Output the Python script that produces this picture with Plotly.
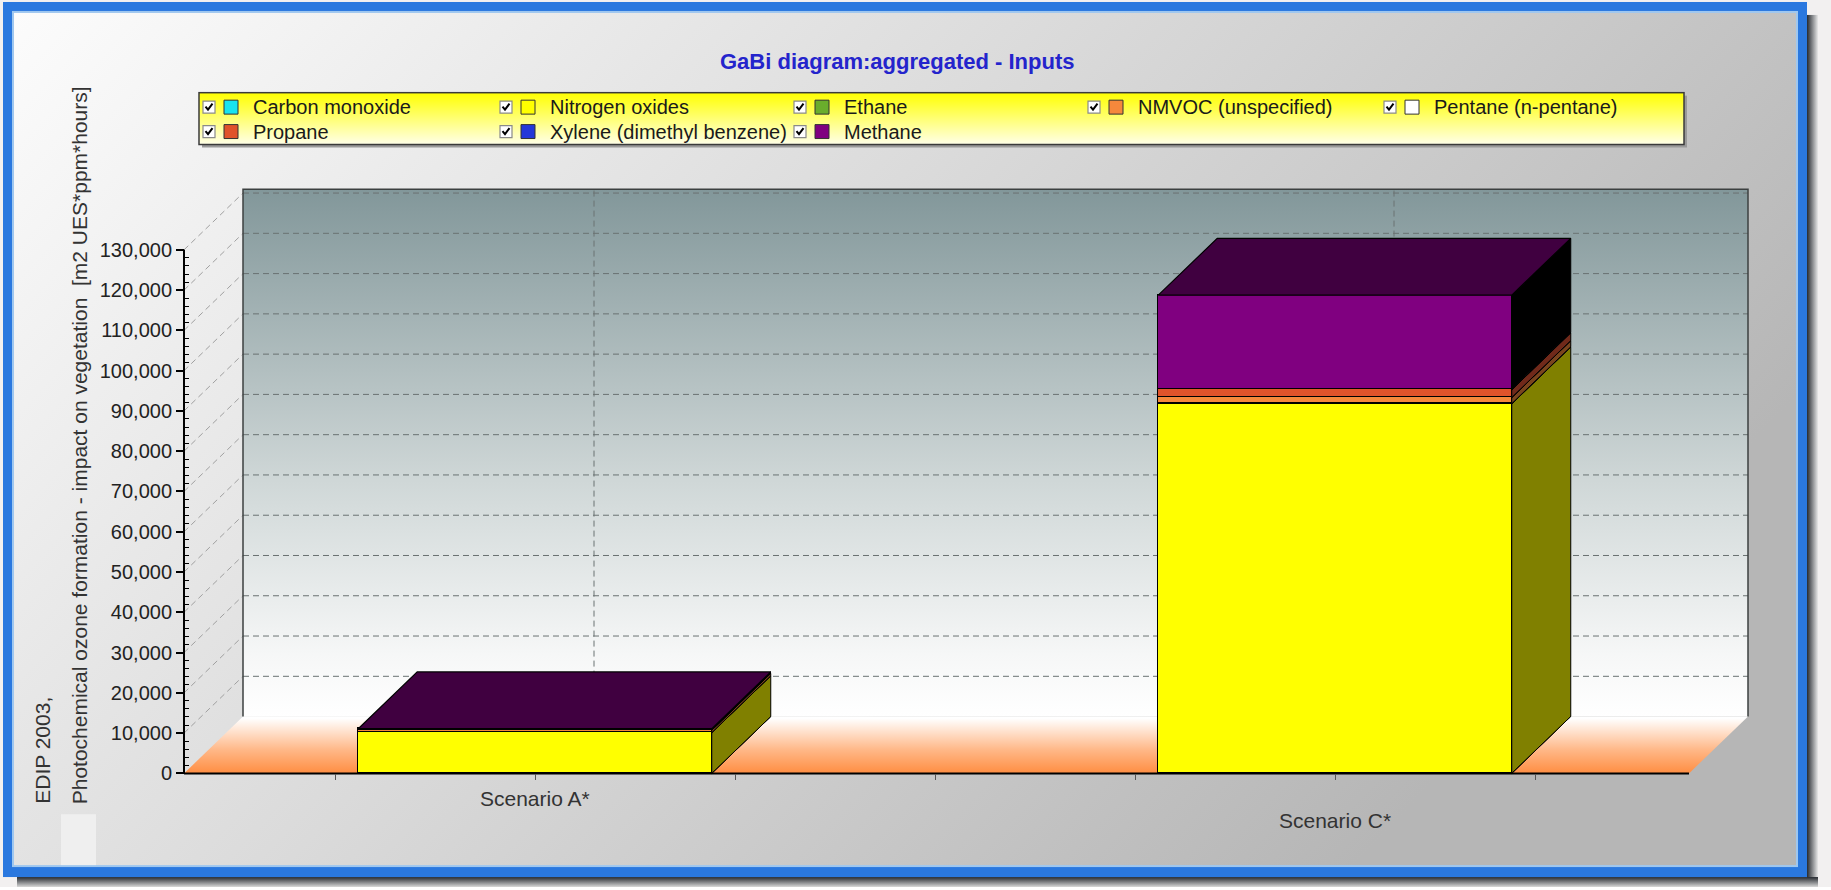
import base64
import plotly.graph_objects as go

# ---------------- data ----------------
scenarios = ["Scenario A*", "Scenario C*"]
flows = ["Carbon monoxide", "Nitrogen oxides", "Ethane", "NMVOC (unspecified)",
         "Pentane (n-pentane)", "Propane", "Xylene (dimethyl benzene)", "Methane"]
carbon_monoxide = [10, 40]
nitrogen_oxides = [10100, 91700]
ethane = [10, 80]
nmvoc = [600, 1500]
pentane = [5, 30]
propane = [150, 1900]
xylene = [20, 100]
methane = [200, 23400]
y_ticks = [0, 10000, 20000, 30000, 40000, 50000, 60000, 70000,
           80000, 90000, 100000, 110000, 120000, 130000]

series = [carbon_monoxide, nitrogen_oxides, ethane, nmvoc,
          pentane, propane, xylene, methane]

# ---------------- styles ----------------
front_col = ["#19e3ef", "#ffff00", "#6aad2c", "#f5883c",
             "#ffffff", "#e0532b", "#2438d8", "#800080"]
side_col = ["#0c7178", "#808000", "#35561a", "#7a441e",
            "#808080", "#70291a", "#121c6c", "#000000"]
top_col = "#400040"
FONT = "Liberation Sans, Arial, sans-serif"

# ---------------- geometry (pixels of the 1831x890 page) ----------------
W, H = 1831, 890
def px(x):
    return x / W
def py(y):
    return 1 - y / H

ZERO_PY = 776.0                       # pixel row of value 0
PPU = (776.0 - 250.7) / 130000.0      # pixels per unit on the value axis
CAT_X0, CAT_STEP = 535.0, 800.0       # pixel column of first category, spacing
def xv(p):
    return (p - CAT_X0) / CAT_STEP
def yv(p):
    return (ZERO_PY - p) / PPU

DX_PX, DY_PX = 59.0, 57.0             # depth offset of the 3-D box
dxu = DX_PX / CAT_STEP
dyu = DY_PX / PPU

x_front_left = xv(184)
wall_left = x_front_left + dxu
wall_right = xv(1748)
floor_front_right = wall_right - dxu
wall_bottom = dyu
wall_top = yv(190)

dom_x = (176, 1756)
dom_y = (184, 784)                    # top, bottom pixel rows
x_range = [xv(dom_x[0]), xv(dom_x[1])]
y_range = [yv(dom_y[1]), yv(dom_y[0])]

bar_w = 353.5 / CAT_STEP
half = bar_w / 2
x_pos = [0, 1]

fig = go.Figure()

# ---------------- back wall and floor (base subplot) ----------------
fig.add_trace(go.Scatter(
    x=[wall_left, wall_right, wall_right, wall_left, wall_left],
    y=[wall_bottom, wall_bottom, wall_top, wall_top, wall_bottom],
    fill="toself", mode="lines", line=dict(width=0),
    fillgradient=dict(type="vertical", start=wall_bottom, stop=wall_top,
                      colorscale=[[0, "#ffffff"], [0.12, "#f6f7f7"],
                                  [0.45, "#cfd7d7"], [1, "#82979a"]]),
    hoverinfo="skip", showlegend=False))
fig.add_trace(go.Scatter(
    x=[x_front_left, floor_front_right, wall_right, wall_left, x_front_left],
    y=[0, 0, wall_bottom, wall_bottom, 0],
    fill="toself", mode="lines", line=dict(width=0),
    fillgradient=dict(type="vertical", start=0, stop=wall_bottom,
                      colorscale=[[0, "#ff8a3c"], [0.45, "#ffb888"],
                                  [1, "#ffffff"]]),
    hoverinfo="skip", showlegend=False))

# grid on the back wall
gx, gy = [], []
for v in y_ticks[1:]:
    gx += [wall_left, wall_right, None]
    gy += [v + dyu, v + dyu, None]
for c in x_pos:
    gx += [c + dxu, c + dxu, None]
    gy += [wall_bottom, wall_top, None]
fig.add_trace(go.Scatter(x=gx, y=gy, mode="lines",
                         line=dict(color="#6a7272", width=1, dash="6px,4px"),
                         hoverinfo="skip", showlegend=False))
# grid on the left wall
lx, ly = [], []
for v in y_ticks[1:]:
    lx += [x_front_left, wall_left, None]
    ly += [v, v + dyu, None]
fig.add_trace(go.Scatter(x=lx, y=ly, mode="lines",
                         line=dict(color="#a0a0a0", width=1, dash="6px,4px"),
                         hoverinfo="skip", showlegend=False))
# wall edges
fig.add_trace(go.Scatter(
    x=[wall_left, wall_left, wall_right, wall_right],
    y=[wall_bottom, wall_top, wall_top, wall_bottom],
    mode="lines", line=dict(color="#3c4040", width=1.5),
    hoverinfo="skip", showlegend=False))

# ---------------- stacked bars (overlay subplot) ----------------
for k, (name, vals) in enumerate(zip(flows, series)):
    fig.add_trace(go.Bar(
        x=x_pos, y=vals, width=bar_w, name=name,
        marker=dict(color=front_col[k], line=dict(color="#000000", width=1.2)),
        xaxis="x2", yaxis="y2", hoverinfo="skip", showlegend=False))

# right-hand faces of each stacked segment
cum = [0.0 for _ in x_pos]
for k, vals in enumerate(series):
    xs, ys = [], []
    for i, v in enumerate(vals):
        lo = cum[i]
        hi = lo + v
        x1 = x_pos[i] + half
        xs += [x1, x1 + dxu, x1 + dxu, x1, x1, None]
        ys += [lo, lo + dyu, hi + dyu, hi, lo, None]
        cum[i] = hi
    fig.add_trace(go.Scatter(
        x=xs, y=ys, fill="toself", fillcolor=side_col[k], mode="lines",
        line=dict(color="#000000", width=1), xaxis="x2", yaxis="y2",
        hoverinfo="skip", showlegend=False))

# top faces
tx, ty = [], []
for i, top in enumerate(cum):
    x0, x1 = x_pos[i] - half, x_pos[i] + half
    tx += [x0, x1, x1 + dxu, x0 + dxu, x0, None]
    ty += [top, top, top + dyu, top + dyu, top, None]
fig.add_trace(go.Scatter(
    x=tx, y=ty, fill="toself", fillcolor=top_col, mode="lines",
    line=dict(color="#000000", width=1.2), xaxis="x2", yaxis="y2",
    hoverinfo="skip", showlegend=False))

# front axis lines
fig.add_trace(go.Scatter(
    x=[x_front_left, x_front_left, None, x_front_left, floor_front_right],
    y=[y_ticks[-1], 0, None, 0, 0], mode="lines",
    line=dict(color="#000000", width=2), xaxis="x2", yaxis="y2",
    hoverinfo="skip", showlegend=False))

# ---------------- annotations ----------------
ann = [
    dict(text="<b>GaBi diagram:aggregated - Inputs</b>", x=px(897), y=py(62),
         xref="paper", yref="paper", xanchor="center", yanchor="middle",
         showarrow=False, font=dict(family=FONT, size=22, color="#2424cc")),
    dict(text="EDIP 2003,", x=px(43), y=py(809), xref="paper", yref="paper",
         xanchor="center", yanchor="bottom", textangle=-90, showarrow=False,
         font=dict(family=FONT, size=21, color="#333333")),
    dict(text="Photochemical ozone formation - impact on vegetation\u00a0 [m2 UES*ppm*hours]",
         x=px(79), y=py(809), xref="paper", yref="paper",
         xanchor="center", yanchor="bottom", textangle=-90, showarrow=False,
         font=dict(family=FONT, size=21, color="#333333")),
]
label_rows = [801, 823]
for i, s in enumerate(scenarios):
    ann.append(dict(text=s, x=x_pos[i], y=py(label_rows[i % 2]), xref="x2",
                    yref="paper", xanchor="center", yanchor="middle",
                    showarrow=False,
                    font=dict(family=FONT, size=21, color="#333333")))

# ---------------- legend (checkbox, swatch, name) ----------------
shapes = []
col_x = [203, 500, 794, 1088, 1384]
row_y = [107.5, 132.0]
for k, name in enumerate(flows):
    r, c = divmod(k, 5)
    cb, ry = col_x[c], row_y[r]
    shapes.append(dict(type="rect", xref="paper", yref="paper",
                       x0=px(cb), x1=px(cb + 12), y0=py(ry + 6), y1=py(ry - 6),
                       fillcolor="#ffffff", line=dict(color="#8a8a8a", width=1.2)))
    shapes.append(dict(type="path", xref="paper", yref="paper",
                       path=f"M {px(cb + 2.5)},{py(ry - 0.5)} L {px(cb + 5)},{py(ry + 2.5)} "
                            f"L {px(cb + 9.5)},{py(ry - 3.5)}",
                       line=dict(color="#000000", width=2)))
    shapes.append(dict(type="rect", xref="paper", yref="paper",
                       x0=px(cb + 21), x1=px(cb + 35), y0=py(ry + 7), y1=py(ry - 7),
                       fillcolor=front_col[k], line=dict(color="#333333", width=1)))
    ann.append(dict(text=name, x=px(cb + 48), y=py(ry), xref="paper", yref="paper",
                    xanchor="left", yanchor="middle", showarrow=False,
                    font=dict(family=FONT, size=20, color="#1a1a1a")))

# ---------------- page background: frame, pane gradient, legend box ----------------
svg = f"""<svg xmlns='http://www.w3.org/2000/svg' width='{W}' height='{H}' viewBox='0 0 {W} {H}'>
<defs>
<linearGradient id='pane' x1='0' y1='0' x2='1' y2='0.45'>
<stop offset='0' stop-color='#fcfcfc'/><stop offset='0.5' stop-color='#dadada'/><stop offset='1' stop-color='#b6b6b6'/>
</linearGradient>
<linearGradient id='legbg' x1='0' y1='0' x2='0' y2='1'>
<stop offset='0' stop-color='#ffff00'/><stop offset='1' stop-color='#ffffe8'/>
</linearGradient>
<linearGradient id='shr' x1='0' y1='0' x2='1' y2='0'>
<stop offset='0' stop-color='#262a30'/><stop offset='1' stop-color='#e8e8e8'/>
</linearGradient>
<linearGradient id='shb' x1='0' y1='0' x2='0' y2='1'>
<stop offset='0' stop-color='#262a30'/><stop offset='1' stop-color='#d8d8d8'/>
</linearGradient>
</defs>
<rect width='{W}' height='{H}' fill='#f2f0f0'/>
<rect x='1807' y='15' width='11' height='873' fill='url(#shr)'/>
<rect x='17' y='880' width='1801' height='10' fill='url(#shb)'/>
<rect x='3' y='2' width='1804' height='878' fill='#2a78df'/>
<rect x='12' y='11' width='1786' height='859' fill='#9fc7ef'/>
<rect x='14' y='13' width='1782' height='855' fill='url(#pane)'/>
<rect x='61' y='817' width='35' height='51' fill='#efefef'/>
<rect x='202' y='96' width='1485' height='52' fill='#9a9a9a'/>
<rect x='199' y='93' width='1485' height='52' fill='url(#legbg)' stroke='#3a3a3a' stroke-width='1.5'/>
</svg>"""
bg_src = "data:image/svg+xml;base64," + base64.b64encode(svg.encode()).decode()

fig.update_layout(
    width=W, height=H,
    margin=dict(l=0, r=0, t=0, b=0, pad=0),
    paper_bgcolor="rgba(0,0,0,0)", plot_bgcolor="rgba(0,0,0,0)",
    barmode="stack", bargap=0, showlegend=False, hovermode=False,
    font=dict(family=FONT, size=20, color="#222222"),
    images=[dict(source=bg_src, xref="paper", yref="paper", x=0, y=1,
                 sizex=1, sizey=1, xanchor="left", yanchor="top",
                 sizing="stretch", layer="below")],
    xaxis=dict(type="linear", domain=[px(dom_x[0]), px(dom_x[1])], range=x_range,
               anchor="free", position=py(ZERO_PY),
               tickmode="array", tickvals=[-0.25, 0, 0.25, 0.5, 0.75, 1, 1.25],
               ticks="outside", ticklen=6, tickwidth=1, tickcolor="#555555",
               showticklabels=False, showgrid=False, zeroline=False, showline=False),
    yaxis=dict(type="linear", domain=[py(dom_y[1]), py(dom_y[0])], range=y_range,
               anchor="free", position=px(184),
               tickmode="array", tickvals=y_ticks, tickformat=",d",
               ticks="outside", ticklen=8, tickwidth=1.5, tickcolor="#000000",
               tickfont=dict(family=FONT, size=20, color="#222222"),
               minor=dict(tickmode="array",
                          tickvals=[v for v in range(0, 130001, 2000) if v % 10000],
                          ticks="inside", ticklen=4, tickwidth=1, tickcolor="#000000"),
               showgrid=False, zeroline=False, showline=False),
    xaxis2=dict(type="linear", overlaying="x", anchor="y2", range=x_range,
                visible=False, showgrid=False, zeroline=False),
    yaxis2=dict(type="linear", overlaying="y", anchor="x2", range=y_range,
                visible=False, showgrid=False, zeroline=False),
    shapes=shapes,
    annotations=ann,
)

fig.write_html("out.html")
